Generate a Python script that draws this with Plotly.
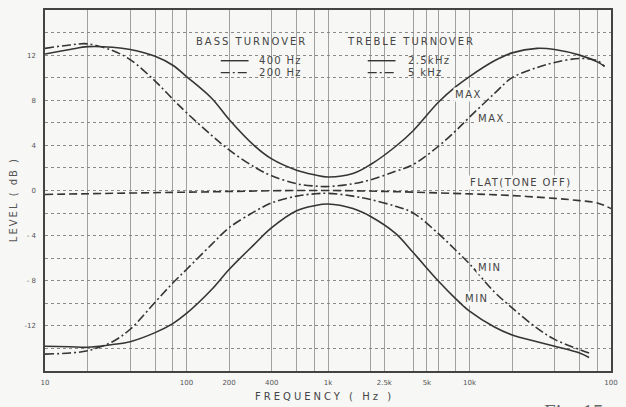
import plotly.graph_objects as go
import numpy as np

# ---------------- data ----------------
freq = [10, 15, 20, 30, 40, 60, 80, 100, 150, 200, 300, 400, 600, 800, 1000, 1500, 2000, 3000, 4000,
        6000, 8000, 10000, 15000, 20000, 30000, 40000, 60000, 80000]

# MAX, bass turnover 400 Hz / treble turnover 2.5 kHz (solid)
db_max_400_25k = [12.1, 12.5, 12.75, 12.7, 12.5, 11.9, 11.1, 10.1, 8.2, 6.3, 4.0, 2.8, 1.8, 1.4, 1.2, 1.5,
                  2.3, 3.9, 5.3, 7.8, 9.2, 10.1, 11.5, 12.2, 12.6, 12.5, 12.0, 11.4]
# MAX, bass turnover 200 Hz / treble turnover 5 kHz (dash-dot)
db_max_200_5k = [12.6, 12.9, 13.0, 12.4, 11.6, 9.7, 8.1, 6.9, 4.9, 3.6, 2.1, 1.3, 0.6, 0.4, 0.35, 0.6,
                 0.95, 1.7, 2.3, 3.9, 5.3, 6.5, 8.6, 10.0, 10.9, 11.35, 11.7, 11.5]
# MIN, bass turnover 200 Hz / treble turnover 5 kHz (dash-dot)
db_min_200_5k = [-14.5, -14.4, -14.2, -13.4, -12.3, -9.9, -8.2, -7.0, -4.8, -3.3, -1.9, -1.1, -0.5, -0.3,
                 -0.25, -0.5, -0.8, -1.4, -2.0, -3.8, -5.3, -6.5, -9.0, -10.4, -12.2, -13.2, -14.1, -14.4]
# MIN, bass turnover 400 Hz / treble turnover 2.5 kHz (solid)
db_min_400_25k = [-13.8, -13.85, -13.9, -13.65, -13.4, -12.6, -11.8, -10.9, -8.8, -7.0, -4.8, -3.3, -1.8,
                  -1.35, -1.2, -1.6, -2.3, -3.8, -5.5, -8.0, -9.6, -10.7, -12.1, -12.8, -13.4, -13.8, -14.4,
                  -14.8]

f_end_upper = 90000
db_end_max_400_25k = 11.0
db_end_max_200_5k = 11.0
f_end_lower = 70000

f_flat = [10, 100, 1000, 10000, 20000, 40000, 60000, 80000, 100000]
db_flat = [-0.35, -0.15, 0.0, -0.3, -0.45, -0.7, -0.9, -1.1, -1.6]

x_grid_vals = [10, 20, 40, 60, 80, 100, 200, 400, 600, 800, 1000, 2000, 2500, 4000, 5000, 6000, 8000,
               10000, 20000, 40000, 60000, 80000, 100000]
x_labels = {10: "10", 100: "100", 200: "200", 400: "400", 1000: "1k", 2500: "2.5k", 5000: "5k",
            10000: "10k", 100000: "100"}
y_grid_vals = list(range(-16, 17, 2))
y_labels = {12: "12", 8: "8", 4: "4", 0: "0", -4: "- 4", -8: "- 8", -12: "-12"}

# ---------------- styling ----------------
INK = "#353535"
DASHDOT = "9px,3px,2px,3px"
FONT = "DejaVu Sans"
BG = "#f7f7f5"

W, H = 626, 407
ML, MR, MT, MB = 45, 11, 8, 36
PW, PH = W - ML - MR, H - MT - MB


def px(x):
    return (x - ML) / PW


def py(y):
    return (H - MB - y) / PH


def spaced(t, sp=1.5):
    return f'<span style="letter-spacing:{sp}px">{t}</span>'


fig = go.Figure()


def curve(fx, fy, dash):
    fig.add_trace(go.Scatter(x=fx, y=fy, mode="lines",
                             line=dict(color=INK, width=1.6, dash=dash, shape="spline", smoothing=1.0),
                             hoverinfo="skip", showlegend=False))


curve(freq + [f_end_upper], db_max_400_25k + [db_end_max_400_25k], "solid")
curve(freq + [f_end_upper], db_max_200_5k + [db_end_max_200_5k], DASHDOT)
curve(f_flat, db_flat, "8px,4px")
curve(freq[:-1] + [f_end_lower], db_min_200_5k, DASHDOT)
curve(freq[:-1] + [f_end_lower], db_min_400_25k, "solid")

annotations = []
shapes = []


def ptext(x, y, t, size=10, xanchor="center", sp=2.0, **kw):
    annotations.append(dict(x=px(x), y=py(y), xref="paper", yref="paper", text=spaced(t, sp),
                            showarrow=False, xanchor=xanchor, yanchor="middle",
                            font=dict(family=FONT, size=size, color="#444"), **kw))


def dtext(f, db, t, size=10, sp=1.5):
    annotations.append(dict(x=np.log10(f), y=db, xref="x", yref="y", text=spaced(t, sp),
                            showarrow=False, xanchor="center", yanchor="middle",
                            font=dict(family=FONT, size=size, color="#444"),
                            bgcolor=BG))


def swatch(x0, x1, y, dash):
    shapes.append(dict(type="line", xref="paper", yref="paper", x0=px(x0), x1=px(x1), y0=py(y), y1=py(y),
                       line=dict(color=INK, width=1.4, dash=dash)))


# legend block
ptext(253, 40, "BASS TURNOVER")
swatch(222, 250, 59, "solid")
ptext(259, 59, "400 Hz", xanchor="left", sp=1.3)
swatch(222, 250, 71, DASHDOT)
ptext(259, 71, "200 Hz", xanchor="left", sp=1.3)
ptext(414, 40, "TREBLE TURNOVER")
swatch(370, 398, 59, "solid")
ptext(409, 59, "2.5kHz", xanchor="left", sp=1.3)
swatch(370, 398, 71, DASHDOT)
ptext(409, 71, "5 kHz", xanchor="left", sp=1.3)

# curve labels
dtext(9900, 8.5, "MAX")
dtext(14400, 6.4, "MAX")
dtext(23000, 0.75, "FLAT(TONE OFF)", sp=1.4)
dtext(13900, -6.8, "MIN")
dtext(11300, -9.6, "MIN")

# axis titles
annotations.append(dict(x=px(14), y=py(199), xref="paper", yref="paper", text=spaced("LEVEL ( dB )", 2),
                        showarrow=False, textangle=-90, xanchor="center", yanchor="middle",
                        font=dict(family=FONT, size=10, color="#555")))
ptext(326, 397, "FREQUENCY ( Hz )", size=10, sp=3)

# partial figure caption at the bottom edge (cut off in the original scan)
annotations.append(dict(x=px(546), y=py(398), xref="paper", yref="paper", text="Fig. 15",
                        showarrow=False, xanchor="left", yanchor="top",
                        font=dict(family="Liberation Serif", size=21, color="#666")))

fig.update_layout(
    width=W, height=H,
    margin=dict(l=ML, r=MR, t=MT, b=MB),
    paper_bgcolor=BG, plot_bgcolor=BG,
    annotations=annotations, shapes=shapes,
    xaxis=dict(type="log", range=[1, 5], tickmode="array", tickvals=x_grid_vals,
               ticktext=[x_labels.get(v, "") for v in x_grid_vals],
               showgrid=True, gridcolor="#a0a0a0", gridwidth=1,
               showline=True, linecolor="#444", linewidth=1.5, mirror=True,
               ticks="", ticklabelstandoff=4,
               tickfont=dict(family=FONT, size=7, color="#555"), zeroline=False),
    yaxis=dict(range=[-16, 16], tickmode="array", tickvals=y_grid_vals,
               ticktext=[y_labels.get(v, "") for v in y_grid_vals],
               showgrid=True, gridcolor="#8a8a8a", gridwidth=1, griddash="dot",
               showline=True, linecolor="#444", linewidth=1.5, mirror=True,
               ticks="", ticklabelstandoff=6,
               tickfont=dict(family=FONT, size=7, color="#555"), zeroline=False),
)

fig.write_html("out.html", config={"displayModeBar": False},
               post_script="document.body.style.margin='0';document.body.style.overflow='hidden';")
